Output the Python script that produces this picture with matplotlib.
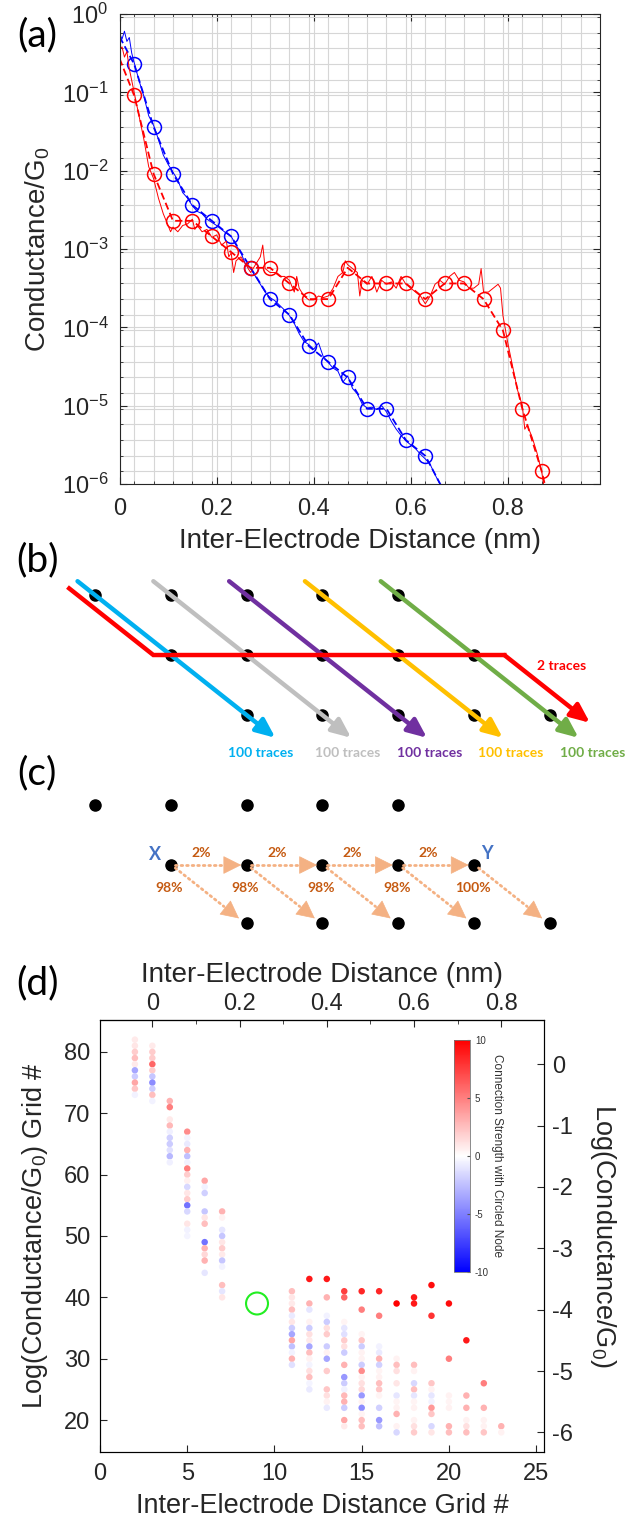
import numpy as np
import matplotlib
matplotlib.use('Agg')
import matplotlib.pyplot as plt
from matplotlib.patches import FancyArrowPatch
from matplotlib.ticker import FixedLocator, NullFormatter

plt.rcParams['font.family'] = ['Liberation Sans', 'DejaVu Sans']
plt.rcParams['mathtext.fontset'] = 'custom'
plt.rcParams['mathtext.rm'] = 'Liberation Sans'
plt.rcParams['mathtext.it'] = 'Liberation Sans:italic'
plt.rcParams['mathtext.bf'] = 'Liberation Sans:bold'
plt.rcParams['axes.unicode_minus'] = False

# ---------------- panel (a) data: distance (nm), log10(G/G0) ----------------
blue_raw_x = [0.000, 0.005, 0.010, 0.015, 0.020, 0.025, 0.030, 0.040, 0.050, 0.060,
              0.070, 0.080, 0.090, 0.100, 0.110, 0.120, 0.130, 0.140, 0.150, 0.160,
              0.170, 0.180, 0.190, 0.200, 0.210, 0.220, 0.230, 0.240, 0.250, 0.260,
              0.270, 0.280, 0.290, 0.300, 0.310, 0.320, 0.330, 0.340, 0.350, 0.360,
              0.370, 0.380, 0.390, 0.400, 0.410, 0.420, 0.430, 0.440, 0.450, 0.460,
              0.470, 0.480, 0.490, 0.500, 0.510, 0.520, 0.530, 0.540, 0.550, 0.560,
              0.570, 0.580, 0.590, 0.600, 0.610, 0.620, 0.630, 0.640, 0.650, 0.660]
blue_raw_lg = [-0.25, -0.32, -0.22, -0.35, -0.30, -0.50, -0.62, -0.85, -1.05, -1.30,
               -1.42, -1.60, -1.80, -1.92, -2.02, -2.12, -2.28, -2.35, -2.45, -2.52,
               -2.55, -2.62, -2.66, -2.70, -2.75, -2.80, -2.84, -2.95, -3.05, -3.20,
               -3.25, -3.35, -3.45, -3.55, -3.62, -3.66, -3.72, -3.78, -3.85, -3.95,
               -4.08, -4.18, -4.22, -4.28, -4.20, -4.38, -4.45, -4.52, -4.56, -4.70,
               -4.62, -4.78, -4.85, -4.98, -5.03, -5.02, -5.05, -5.00, -5.08, -5.20,
               -5.30, -5.38, -5.45, -5.50, -5.55, -5.62, -5.68, -5.75, -5.88, -6.00]

red_raw_x = [0, .005, .01, .015, .02, .025, .03, .04, .05, .06, .07, .08, .09, .10, .105,
             .11, .12, .13, .14, .15, .155, .16, .17, .18, .19, .20, .21, .22, .225, .23,
             .235, .24, .25, .26, .27, .28, .29, .295, .30, .31, .32, .33, .34, .35, .36,
             .365, .37, .38, .39, .40, .41, .42, .43, .44, .45, .46, .465, .47, .48, .49,
             .495, .50, .51, .52, .53, .54, .55, .56, .57, .58, .59, .60, .61, .62, .63,
             .64, .65, .66, .67, .68, .69, .70, .71, .72, .73, .74, .745, .75, .76, .77,
             .78, .785, .79, .80, .81, .82, .83, .835, .84, .85, .86, .87, .875]
red_raw_lg = [-0.45, -0.42, -0.55, -0.48, -0.70, -0.85, -1.00, -1.30, -1.60, -1.95, -2.10,
              -2.35, -2.55, -2.70, -2.78, -2.72, -2.78, -2.70, -2.68, -2.62, -2.75, -2.70,
              -2.78, -2.75, -2.85, -2.82, -2.95, -2.90, -3.10, -3.05, -3.30, -3.15, -3.10,
              -3.20, -3.30, -3.20, -3.10, -2.95, -3.25, -3.30, -3.30, -3.35, -3.35, -3.40,
              -3.55, -3.35, -3.50, -3.60, -3.65, -3.65, -3.60, -3.62, -3.60, -3.50, -3.35,
              -3.30, -3.15, -3.20, -3.25, -3.30, -3.60, -3.40, -3.45, -3.35, -3.55, -3.40,
              -3.45, -3.42, -3.50, -3.35, -3.45, -3.50, -3.55, -3.60, -3.70, -3.60, -3.45,
              -3.40, -3.45, -3.35, -3.30, -3.40, -3.42, -3.50, -3.50, -3.45, -3.25, -3.55,
              -3.55, -3.50, -3.45, -3.50, -3.85, -4.20, -4.50, -4.80, -5.00, -5.30, -5.25,
              -5.40, -5.60, -5.85, -6.05]

blue_cx = [0.03, 0.07, 0.11, 0.15, 0.19, 0.23, 0.27, 0.31, 0.35, 0.39, 0.43, 0.47,
           0.51, 0.55, 0.59, 0.63]
blue_clg = [-0.64, -1.44, -2.04, -2.44, -2.64, -2.84, -3.24, -3.64, -3.84, -4.24, -4.44,
            -4.64, -5.04, -5.04, -5.44, -5.64]
red_cx = [0.03, 0.07, 0.11, 0.15, 0.19, 0.23, 0.27, 0.31, 0.35, 0.39, 0.43, 0.47, 0.51,
          0.55, 0.59, 0.63, 0.67, 0.71, 0.75, 0.79, 0.83, 0.87]
red_clg = [-1.04, -2.04, -2.64, -2.64, -2.84, -3.04, -3.24, -3.24, -3.44, -3.64, -3.64,
           -3.24, -3.44, -3.44, -3.44, -3.64, -3.44, -3.44, -3.64, -4.04, -5.04, -5.84]
blue_dash_x = [0.0] + blue_cx + [0.665]
blue_dash_lg = [-0.29] + blue_clg + [-6.05]
red_dash_x = [0.0] + red_cx + [0.878]
red_dash_lg = [-0.57] + red_clg + [-6.05]

# ---------------- panel (b)/(c) diagram data (lattice columns / rows) ----------------
trace_cols = [0, 1, 2, 3, 4]
trace_colors = ['#00B0F0', '#BFBFBF', '#7030A0', '#FFC000', '#70AD47']
trace_labels = ['100 traces'] * 5
trace_label_cols = [2.19, 3.33, 4.41, 5.48, 6.56]
red_path_cols = [-0.34, 0.77, 5.40, 6.53]
red_path_rows = [-0.11, 1.00, 1.00, 2.13]

node_cols = [0, 1, 2, 3, 4, 1, 2, 3, 4, 5, 2, 3, 4, 5, 6]
node_rows = [0, 0, 0, 0, 0, 1, 1, 1, 1, 1, 2, 2, 2, 2, 2]
c_row_offset = 3.5

step_cols = [1, 2, 3, 4]
step_pct = ['2%', '2%', '2%', '2%']
drop_cols = [1, 2, 3, 4, 5]
drop_pct = ['98%', '98%', '98%', '98%', '100%']

# ---------------- panel (d) data: grid column, grid row, connection strength ----------------
grid_x = [2, 2, 2, 2, 2, 2, 2, 2, 2, 2,
          3, 3, 3, 3, 3, 3, 3, 3, 3, 3,
          4, 4, 4, 4, 4, 4, 4, 4, 4, 4,
          5, 5, 5, 5, 5, 5, 5, 5, 5, 5, 5, 5, 5, 5, 5, 5, 5,
          6, 6, 6, 6, 6, 6, 6, 6, 6, 6, 6,
          7, 7, 7, 7, 7, 7, 7, 7, 7, 7, 7, 7,
          11, 11, 11, 11, 11, 11, 11, 11, 11, 11, 11, 11, 11,
          12, 12, 12, 12, 12, 12, 12, 12, 12, 12, 12, 12, 12, 12, 12,
          13, 13, 13, 13, 13, 13, 13, 13, 13, 13, 13, 13, 13, 13,
          14, 14, 14, 14, 14, 14, 14, 14, 14, 14, 14, 14, 14, 14, 14, 14, 14,
          15, 15, 15, 15, 15, 15, 15, 15, 15, 15, 15, 15, 15, 15, 15, 15, 15, 15,
          16, 16, 16, 16, 16, 16, 16, 16, 16, 16, 16, 16, 16, 16,
          17, 17, 17, 17, 17, 17, 17, 17, 17, 17, 17,
          18, 18, 18, 18, 18, 18, 18, 18, 18, 18, 18, 18,
          19, 19, 19, 19, 19, 19, 19, 19, 19, 19,
          20, 20, 20, 20, 20, 20, 20,
          21, 21, 21, 21, 21, 21,
          22, 22, 22, 22, 22,
          23, 23]
grid_y = [82, 81, 80, 79, 78, 77, 76, 75, 74, 73,
          81, 80, 79, 78, 77, 76, 75, 74, 73, 72,
          72, 71, 69, 68, 67, 66, 65, 64, 63, 62,
          67, 66, 65, 64, 63, 62, 61, 60, 59, 58, 57, 56, 55, 54, 52, 51, 50,
          59, 58, 57, 54, 53, 52, 49, 48, 47, 46, 44,
          54, 53, 51, 50, 49, 48, 47, 46, 45, 42, 41, 40,
          41, 40, 39, 38, 37, 36, 35, 34, 33, 32, 31, 30, 29,
          43, 39, 38, 36, 35, 34, 33, 32, 31, 30, 29, 28, 27, 26, 25,
          43, 40, 37, 36, 35, 34, 32, 31, 30, 28, 25, 24, 23, 22,
          41, 40, 36, 35, 34, 33, 32, 31, 29, 27, 26, 25, 24, 23, 22, 20, 19,
          41, 38, 34, 33, 32, 31, 30, 29, 28, 27, 26, 25, 24, 23, 22, 21, 20, 19,
          41, 37, 32, 31, 30, 29, 28, 27, 26, 25, 24, 22, 20, 19,
          39, 30, 29, 28, 26, 24, 23, 22, 21, 19, 18,
          40, 39, 29, 28, 26, 25, 24, 23, 22, 20, 19, 18,
          42, 37, 26, 25, 24, 23, 22, 21, 19, 18,
          39, 30, 24, 23, 22, 19, 18,
          33, 24, 22, 20, 19, 18,
          26, 22, 20, 19, 18,
          19, 18]
strength = [0.8, 1.0, 2.0, 2.5, 0.8, -3.5, -2.0, 3.5, 2.2, -0.5,
            0.8, 2.0, 2.0, 6.0, 2.0, -2.2, -4.5, -2.0, 2.5, -0.5,
            3.0, 5.0, 0.8, 2.8, -0.6, -1.8, -2.0, -1.2, -2.8, -0.6,
            4.5, -0.4, -0.8, 3.0, -2.5, -0.5, 5.0, 2.0, 0.6, -1.5, 1.0, 2.0, -5.5, -1.5, 1.0, -0.5, -0.4,
            3.5, -0.5, -1.8, -2.2, 1.0, 2.5, -5.5, 3.0, 1.5, 3.0, -1.0,
            3.0, 0.5, -1.0, -2.2, 1.0, 2.0, 0.8, -2.2, -0.5, 2.5, -1.0, 1.0,
            2.5, 1.0, 0.8, 2.5, -0.8, 1.0, -2.0, -3.5, 3.5, -2.5, -0.5, 3.0, -1.2,
            9.0, 3.0, -1.0, 0.5, -2.0, 1.2, 0.8, -3.5, 2.5, 0.5, -0.4, 1.2, 2.5, -0.4, -0.8,
            9.0, 3.0, -0.5, -2.0, 1.2, 2.0, -2.0, 0.5, -3.5, 2.0, 2.2, 1.2, 0.5, -0.8,
            7.5, 6.0, 0.4, -1.0, -1.2, 2.0, 1.2, -2.0, 3.0, -4.0, -2.0, -0.5, 2.8, 3.0, -2.0, 3.5, 0.8,
            8.5, 5.0, 0.4, 2.2, -2.0, 0.5, 0.5, -2.0, 4.5, 0.5, 1.2, 1.5, -4.0, 0.5, -4.5, 0.4, 2.5, 2.5,
            8.5, 5.0, -0.5, -0.8, 3.0, -1.8, 0.4, 0.5, 2.5, 2.2, 0.4, -1.8, -4.0, -2.5,
            10.0, 0.5, 2.5, 1.2, 1.0, -1.0, 0.4, 0.5, 3.0, 0.5, -1.5,
            9.0, 9.0, 2.5, 0.5, -1.5, 2.5, -1.0, 0.4, 0.5, 0.5, 1.2, 2.0,
            9.5, 8.0, 2.2, 0.5, -1.0, -0.5, 4.0, 2.2, -1.5, 1.0,
            9.5, 5.0, 0.5, 0.4, 0.5, 3.0, 2.5,
            9.0, 3.0, 3.0, 0.5, 1.2, 2.5,
            5.0, 3.0, 0.5, 0.5, 2.2,
            3.0, 0.5]
circled_node = (9, 39)
grid_xticks = [0, 5, 10, 15, 20, 25]
grid_yticks = [20, 30, 40, 50, 60, 70, 80]
nm_ticks = [0, 0.2, 0.4, 0.6, 0.8]
logg_ticks = [-6, -5, -4, -3, -2, -1, 0]

W, H = 639, 1523
fig = plt.figure(figsize=(W / 100, H / 100), dpi=100)


def box(l, t, r, b):
    # pixel box (left, top, right, bottom) -> figure fraction rect
    return [l / W, 1 - b / H, (r - l) / W, (b - t) / H]


axis_col = '#262626'
panel_font = dict(family='Lato', fontsize=28)

# ================= (a) =================
ax = fig.add_axes(box(119.6, 14, 600, 484))
ax.plot(blue_raw_x, 10 ** np.array(blue_raw_lg), color='#0000FF', lw=0.7)
ax.plot(blue_dash_x, 10 ** np.array(blue_dash_lg), color='#0000FF', lw=1.3, ls=(0, (4, 2)))
ax.plot(blue_cx, 10 ** np.array(blue_clg), 'o', mfc='none', mec='#0000FF', ms=10, mew=1.1)
ax.plot(red_raw_x, 10 ** np.array(red_raw_lg), color='#FF0000', lw=0.7)
ax.plot(red_dash_x, 10 ** np.array(red_dash_lg), color='#FF0000', lw=1.3, ls=(0, (4, 2)))
ax.plot(red_cx, 10 ** np.array(red_clg), 'o', mfc='none', mec='#FF0000', ms=10, mew=1.1)
ax.set_yscale('log')
ax.set_ylim(1e-6, 1)
ax.set_xlim(0, 0.99)
ax.set_xticks(nm_ticks)
ax.set_xticklabels(['0', '0.2', '0.4', '0.6', '0.8'])
ax.xaxis.set_minor_locator(FixedLocator(np.arange(0.03, 0.99, 0.04)))
ax.yaxis.set_minor_locator(FixedLocator(10 ** (-0.04 - 0.2 * np.arange(30))))
ax.yaxis.set_minor_formatter(NullFormatter())
ax.grid(True, which='both', color='#d6d6d6', lw=0.8)
ax.set_axisbelow(True)
ax.tick_params(which='both', direction='in', top=True, right=True, labelsize=17,
               colors=axis_col, labelcolor='#262626')
ax.tick_params(which='major', length=5)
ax.tick_params(which='minor', length=2.5)
ax.tick_params(axis='x', which='major', pad=10)
ax.tick_params(axis='y', which='major', pad=8)
for s in ax.spines.values():
    s.set_color(axis_col)
ax.set_xlabel('Inter-Electrode Distance (nm)', fontsize=20, labelpad=6, color='#262626')
ax.set_ylabel('Conductance/G$_0$', fontsize=20, labelpad=7, color='#262626')
fig.text(37 / W, 1 - 35 / H, '(a)', ha='center', va='center', **panel_font)

# ================= (b) and (c) =================
axd = fig.add_axes(box(0, 555, 639, 960))
axd.set_xlim(-1.253, 7.177)
axd.set_ylim(6.083, -0.667)
axd.axis('off')

axd.plot(node_cols, node_rows, 'o', color='black', ms=8, zorder=2)
for c, col, lab, lc in zip(trace_cols, trace_colors, trace_labels, trace_label_cols):
    arr = FancyArrowPatch((c - 0.23, -0.23), (c + 2.38, 2.38),
                          arrowstyle='-|>,head_length=1.15,head_width=0.5',
                          mutation_scale=10, lw=3.2, color=col, shrinkA=0, shrinkB=0,
                          zorder=3)
    axd.add_patch(arr)
    axd.text(lc, 2.63, lab, color=col, ha='center', va='center', family='Lato',
             fontweight='bold', fontsize=10)
axd.plot(red_path_cols[:3], red_path_rows[:3], color='#FF0000', lw=3.2,
         solid_joinstyle='miter', zorder=4)
axd.add_patch(FancyArrowPatch((red_path_cols[2], red_path_rows[2]),
                              (red_path_cols[3], red_path_rows[3]),
                              arrowstyle='-|>,head_length=1.15,head_width=0.5',
                              mutation_scale=10, lw=3.2, color='#FF0000',
                              shrinkA=0, shrinkB=0, zorder=4))
axd.text(6.15, 1.18, '2 traces', color='#FF0000', ha='center', va='center',
         family='Lato', fontweight='bold', fontsize=10)

# (c)
c_rows = [r + c_row_offset for r in node_rows]
c_rows = [r if r < 5 else r - 0.03 for r in c_rows]
axd.plot(node_cols, c_rows, 'o', color='black', ms=8, zorder=2)
orange = '#F4B183'


def dotted_arrow(x0, y0, x1, y1):
    # dotted shaft + solid filled head
    dx = 0.2 if x1 != x0 else 0.0
    dy = 0.2 if y1 != y0 else 0.0
    hx, hy = x1 - dx, y1 - dy
    axd.plot([x0, hx], [y0, hy], color=orange, lw=2.0, ls=(0, (0.6, 1.4)),
             dash_capstyle='round', zorder=3)
    axd.add_patch(FancyArrowPatch((hx, hy), (x1, y1),
                                  arrowstyle='-|>,head_length=1.0,head_width=0.5',
                                  mutation_scale=12, lw=0.5, color=orange,
                                  shrinkA=0, shrinkB=0, zorder=3))


for c, p in zip(step_cols, step_pct):
    dotted_arrow(c + 0.06, 4.5, c + 0.93, 4.5)
    axd.text(c + 0.40, 4.3, p, color='#C55A11', ha='center', va='center',
             family='Lato', fontweight='bold', fontsize=10)
for c, p in zip(drop_cols, drop_pct):
    dotted_arrow(c + 0.06, 4.55, c + 0.90, 5.39)
    axd.text(c - 0.02, 4.88, p, color='#C55A11', ha='center', va='center',
             family='Lato', fontweight='bold', fontsize=10)
axd.text(0.79, 4.33, 'X', color='#4472C4', ha='center', va='center', family='Lato',
         fontweight='bold', fontsize=13)
axd.text(5.17, 4.30, 'Y', color='#4472C4', ha='center', va='center', family='Lato',
         fontweight='bold', fontsize=13)
fig.text(37 / W, 1 - 560 / H, '(b)', ha='center', va='center', **panel_font)
fig.text(37 / W, 1 - 773 / H, '(c)', ha='center', va='center', **panel_font)

# ================= (d) =================
axm = fig.add_axes(box(100, 1020, 544, 1452))
sc = axm.scatter(grid_x, grid_y, c=strength, cmap='bwr', vmin=-10, vmax=10, s=22,
                 linewidths=0, zorder=2)
axm.scatter([circled_node[0]], [circled_node[1]], s=250, facecolors='none',
            edgecolors='#22EE22', linewidths=1.5, zorder=3)
axm.set_xlim(0, 25.45)
axm.set_ylim(14.8, 85.2)
axm.set_xticks(grid_xticks)
axm.set_yticks(grid_yticks)
axm.tick_params(direction='in', labelsize=17, length=5, colors=axis_col,
                labelcolor='#262626')
axm.tick_params(axis='x', pad=8)
axm.tick_params(axis='y', pad=7)
for s in axm.spines.values():
    s.set_color(axis_col)
axm.set_xlabel('Inter-Electrode Distance Grid #', fontsize=19.5, labelpad=6,
               color='#262626')
axm.set_ylabel('Log(Conductance/G$_0$) Grid #', fontsize=19.5, labelpad=10,
               color='#262626')

top = axm.secondary_xaxis('top', functions=(lambda g: (g - 3) * 0.04,
                                            lambda d: d / 0.04 + 3))
top.set_xticks(nm_ticks)
top.set_xticklabels(['0', '0.2', '0.4', '0.6', '0.8'])
top.xaxis.set_minor_locator(FixedLocator([0.1, 0.3, 0.5, 0.7]))
top.tick_params(which='both', direction='in', labelsize=17, colors=axis_col,
                labelcolor='#262626')
top.tick_params(which='major', length=5)
top.tick_params(which='minor', length=3)
top.set_xlabel('Inter-Electrode Distance (nm)', fontsize=20, labelpad=8, color='#262626')

right = axm.twinx()
right.set_ylim((14.8 - 78) / 10, (85.2 - 78) / 10)
right.set_yticks(logg_ticks)
right.tick_params(direction='in', labelsize=17, length=5, pad=6, colors=axis_col,
                  labelcolor='#262626')
right.set_ylabel('Log(Conductance/G$_0$)', fontsize=19.5, rotation=270, labelpad=32,
                 color='#262626')

cax = fig.add_axes(box(454, 1040, 470, 1272))
cb = fig.colorbar(sc, cax=cax)
cb.set_ticks([-10, -5, 0, 5, 10])
cb.ax.tick_params(labelsize=7, length=2, direction='in', colors='#555555',
                  labelcolor='#333333')
cb.outline.set_edgecolor('#777777')
cb.outline.set_linewidth(0.6)
cb.set_label('Connection Strength with Circled Node', rotation=270, fontsize=8.5,
             labelpad=10, color='#333333')

fig.text(38 / W, 1 - 983 / H, '(d)', ha='center', va='center', **panel_font)

fig.savefig('out.png', dpi=100)
